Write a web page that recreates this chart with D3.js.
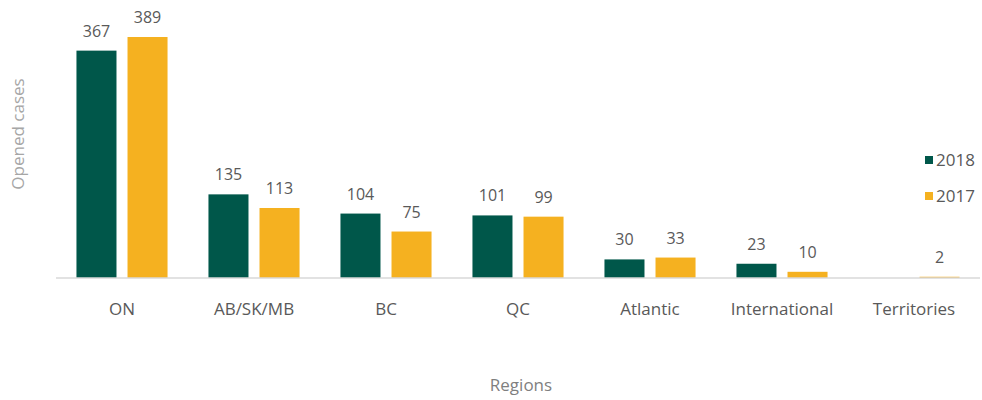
<!DOCTYPE html>
<html><head><meta charset="utf-8">
<script src="https://cdn.jsdelivr.net/npm/d3@7"></script>
<style>body{margin:0;background:#fff}svg{display:block}text{font-family:"Open Sans",sans-serif}</style>
</head><body><svg id="c" width="982" height="400"></svg>
<script>
const categories = ["ON","AB/SK/MB","BC","QC","Atlantic","International","Territories"];
const seriesNames = ["2018","2017"];
const values2018 = [367,135,104,101,30,23,null];
const values2017 = [389,113,75,99,33,10,2];
const colors = ["#00574a","#f5b120"];

const svg = d3.select("#c");
const baseY = 278;
const x = d3.scaleBand().domain(categories).range([56,980]).paddingInner(0.31).paddingOuter(0.155);
const xs = d3.scaleBand().domain(seriesNames).range([0,x.bandwidth()]).paddingInner(0.216);
const y = d3.scaleLinear().domain([0,389]).range([baseY,37]);

const data = [values2018, values2017];
seriesNames.forEach((s,si)=>{
  const g = svg.append("g");
  categories.forEach((c,i)=>{
    const v = data[si][i];
    if (v==null) return;
    g.append("rect").attr("x",x(c)+xs(s)).attr("width",xs.bandwidth())
      .attr("y",y(v)).attr("height",baseY-y(v)).attr("fill",colors[si]);
    g.append("text").attr("x",x(c)+xs(s)+xs.bandwidth()/2).attr("y",y(v)-14)
      .attr("text-anchor","middle").attr("font-size",16).attr("fill","#595959").text(v);
  });
});

// axis
const ax = svg.append("g").attr("transform",`translate(0,${baseY})`)
  .call(d3.axisBottom(x).tickSize(0).tickPadding(0));
ax.select(".domain").attr("stroke","#d9d9d9").attr("stroke-width",1.5)
  .attr("d",`M56,0H980`);
ax.selectAll("text").attr("font-size",17).attr("fill","#595959").attr("font-family","Open Sans")
  .attr("dy",null).attr("y",37);

svg.append("text").attr("x",521).attr("y",391).attr("text-anchor","middle")
  .attr("font-size",17).attr("fill","#7f7f7f").text("Regions");
svg.append("text").attr("transform","translate(24,134) rotate(-90)").attr("text-anchor","middle")
  .attr("font-size",17).attr("fill","#a6a6a6").text("Opened cases");

// legend
seriesNames.forEach((s,i)=>{
  const ly = 160 + i*36;
  svg.append("rect").attr("x",925).attr("y",ly-4).attr("width",8).attr("height",8).attr("fill",colors[i]);
  svg.append("text").attr("x",936).attr("y",ly+6).attr("font-size",17).attr("fill","#595959").text(s);
});
</script></body></html>
